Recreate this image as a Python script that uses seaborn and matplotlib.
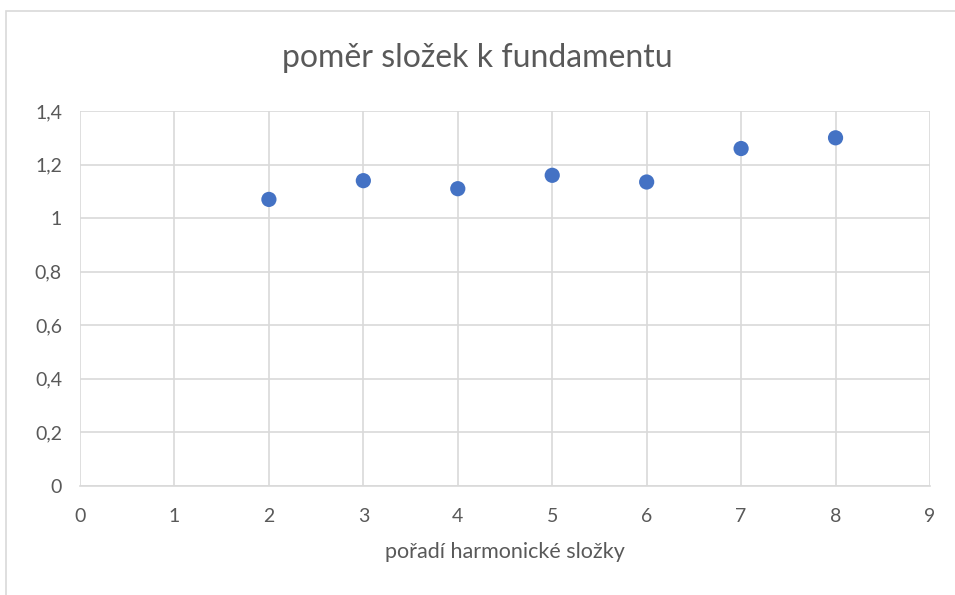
import matplotlib
matplotlib.use("Agg")
import matplotlib.pyplot as plt
import seaborn as sns
import pandas as pd
from matplotlib.patches import Rectangle

# data
harmonic_order = [2, 3, 4, 5, 6, 7, 8]
ratio = [1.07, 1.14, 1.11, 1.16, 1.135, 1.26, 1.30]
x_ticks = [0, 1, 2, 3, 4, 5, 6, 7, 8, 9]
y_ticks = [0, 0.2, 0.4, 0.6, 0.8, 1.0, 1.2, 1.4]
y_labels = ["0", "0,2", "0,4", "0,6", "0,8", "1", "1,2", "1,4"]

sns.set_theme(style="white")
plt.rcParams['font.family'] = ['Lato', 'DejaVu Sans']

text_col = '#595959'
grid_col = '#D9D9D9'

df = pd.DataFrame({'order': harmonic_order, 'ratio': ratio})

fig = plt.figure(figsize=(9.55, 5.95), dpi=100)
ax = fig.add_axes([0.0838, 0.1832, 0.89, 0.6302])

sns.scatterplot(data=df, x='order', y='ratio', ax=ax, color='#4472C4',
                s=120, edgecolor='none', zorder=3)

ax.set_xlim(0, 9)
ax.set_ylim(0, 1.4)
ax.set_xticks(x_ticks)
ax.set_yticks(y_ticks)
ax.set_yticklabels(y_labels)
ax.grid(True, color=grid_col, linewidth=1.2)
ax.set_axisbelow(True)
for side in ['top', 'right', 'left']:
    ax.spines[side].set_visible(False)
ax.spines['bottom'].set_color(grid_col)
ax.spines['bottom'].set_linewidth(1.2)
ax.tick_params(axis='both', length=0, labelsize=14, colors=text_col)
ax.tick_params(axis='x', pad=16)
ax.tick_params(axis='y', pad=13)

ax.set_xlabel('pořadí harmonické složky', fontsize=15.5, color=text_col, labelpad=12)
ax.set_ylabel('')
fig.text(0.5, 0.903, 'poměr složek k fundamentu', ha='center', va='center',
         fontsize=23, color=text_col)

# chart frame (left and top edges visible)
fig.patches.append(Rectangle((0.006, -0.05), 1.1, 1.032, transform=fig.transFigure,
                             fill=False, edgecolor=grid_col, linewidth=1.2))

fig.savefig('out.png', dpi=100)
